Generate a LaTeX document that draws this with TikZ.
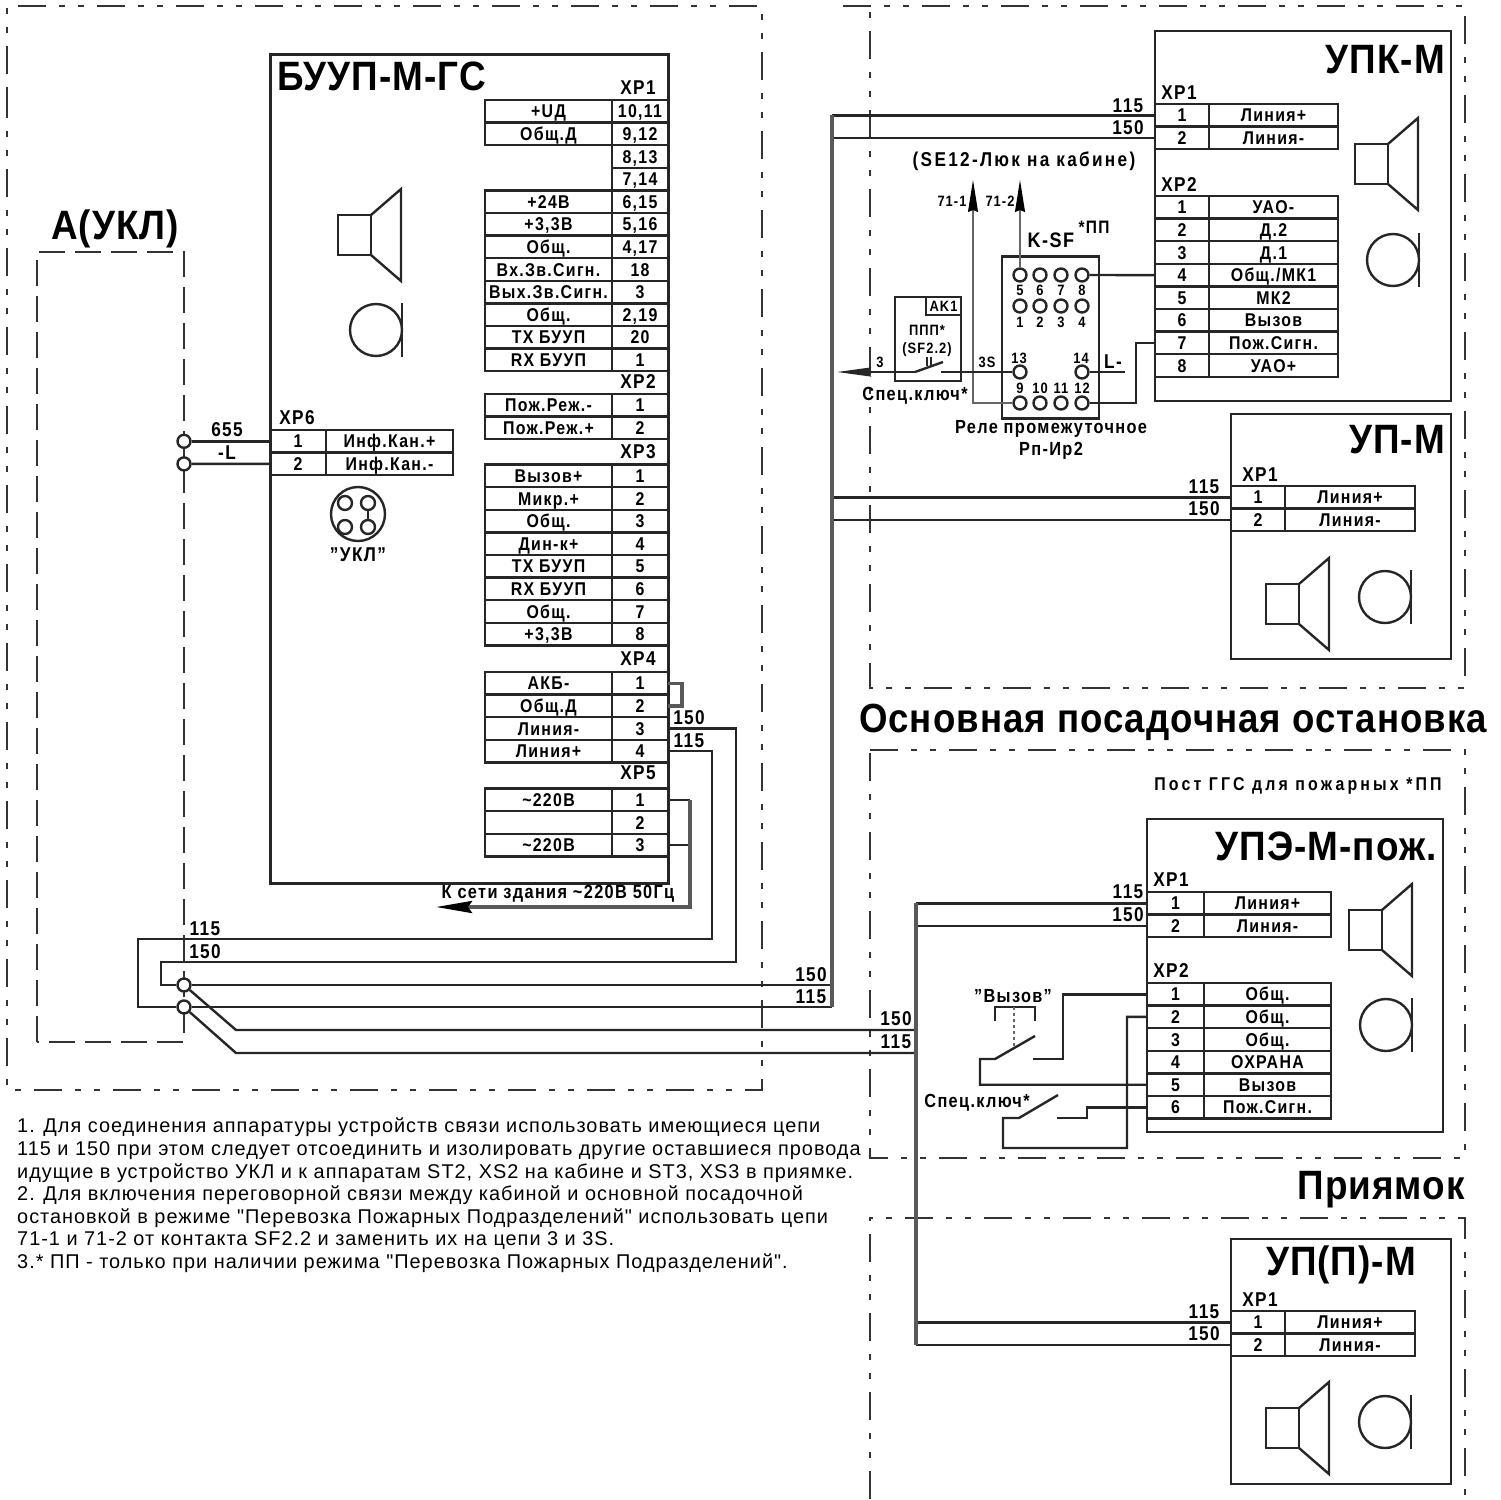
\documentclass[tikz,border=0pt]{standalone}
\usepackage{fontspec}
\setmainfont[FakeStretch=0.86,LetterSpace=7]{Liberation Sans}
\newfontfamily\notefont[LetterSpace=5]{Liberation Sans}
\newfontfamily\titlefont[FakeStretch=0.9,LetterSpace=2.5]{Liberation Sans}
\usetikzlibrary{calc}
\usetikzlibrary{arrows.meta}

\tikzset{
  boxline/.style={line width=2.4,draw=black!85},
  wire/.style={line width=2.4,draw=black!85},
  bus/.style={line width=3.6,draw=black!65},
  thinwire/.style={line width=1.3,draw=black!60},
  frame/.style={line width=1.4,draw=black!80,dash pattern=on 28 off 13 on 6 off 13 on 6 off 13},
  cell/.style={boxline,anchor=north west,inner sep=0,outer sep=0,minimum height=22.6,text height=13.2,text depth=0,font=\bfseries\fontsize{18.5}{20}\selectfont},
  lab/.style={inner sep=0,font=\bfseries\fontsize{19}{21}\selectfont},
  num/.style={inner sep=0,font=\bfseries\fontsize{20}{22}\selectfont},
  small/.style={inner sep=0,font=\bfseries\fontsize{15}{17}\selectfont},
  title/.style={inner sep=0,font=\titlefont\bfseries\fontsize{41}{46}\selectfont},
  term/.style={circle,boxline,fill=white,inner sep=0,minimum size=13},
}

% label on the left, number on the right
\newcommand{\labrows}[6]{%
  \foreach \lab/\num [count=\i from 1, evaluate=\i as \y using #3+(\i-1)*22.6] in {#6} {
    \node[cell,minimum width=#4] (#1l-\i) at (#2,\y) {\lab};
    \node[cell,minimum width=#5] (#1-\i) at (#2+#4,\y) {\num};
  }}
% number on the left, label on the right
\newcommand{\pinrows}[6]{%
  \foreach \num/\lab [count=\i from 1, evaluate=\i as \y using #3+(\i-1)*22.6] in {#6} {
    \node[cell,minimum width=#4] (#1-\i) at (#2,\y) {\num};
    \node[cell,minimum width=#5] (#1l-\i) at (#2+#4,\y) {\lab};
  }}
\newcommand{\speakerat}[2]{%
  \draw[boxline,line join=miter] (#1,#2) rectangle +(33,40);
  \draw[boxline,line join=miter] (#1+33,#2) -- +(30,-26) -- +(30,66) -- +(0,40);}
\newcommand{\micat}[2]{%
  \draw[boxline] (#1,#2) circle (26);
  \draw[boxline] (#1+26,#2-27) -- +(0,54);}

\begin{document}
\begin{tikzpicture}[x=1pt,y=-1pt,>=stealth]
  \useasboundingbox (0,0) rectangle (1501,1499);
  % dashed frames
  \draw[frame] (7,90) -- (7,1090) -- (762,1090) -- (762,6) -- (7,6) -- (7,90);
  \draw[frame,dash pattern=on 26 off 10] (37,1042) -- (37,252) -- (184,252) -- (184,1042) -- cycle;
  \draw[frame] (843,6) -- (1465,6) -- (1465,688) -- (870,688) -- (870,6);
  \draw[frame] (870,750) -- (1465,750) -- (1465,1158) -- (870,1158) -- (870,750);
  \draw[frame] (870,1499) -- (870,1218) -- (1465,1218) -- (1465,1499);
  %
  \node[title] (aukl) at (115,229) {А(УКЛ)};
  \node[title,font=\titlefont\bfseries\fontsize{40.7}{46}\selectfont] (osnova) at (1173,722) {Основная посадочная остановка};
  \node[title,anchor=east] (pit) at (1465,1190) {Приямок};
  \node[lab,font=\bfseries\fontsize{18.5}{21}\selectfont\addfontfeature{LetterSpace=17}] (post) at (1298,786) {Пост ГГС для пожарных *ПП};
  % main unit
  \draw[boxline,line width=3,line join=miter] (270,54) rectangle (668,883);
  \node[title,anchor=west] (buup) at (277,76) {БУУП-М-ГС};
  \node[num] (xp1) at (638,88) {XP1};
  \labrows{bua}{485}{100}{127}{56}{{+UД}/{10,11},{Общ.Д}/{9,12}}
  \foreach \num [count=\i from 0, evaluate=\i as \y using 145.2+\i*22.6] in {{8,13},{7,14}}
    \node[cell,minimum width=56] (bun-\i) at (612,\y) {\num};
  \labrows{bub}{485}{190.4}{127}{56}{{+24В}/{6,15},{+3,3В}/{5,16},{Общ.}/{4,17},{Вх.Зв.Сигн.}/18,{Вых.Зв.Сигн.}/3,{Общ.}/{2,19},{ТХ БУУП}/20,{RX БУУП}/1}
  \node[num] (xp2) at (638,382) {XP2};
  \labrows{buc}{485}{394}{127}{56}{{Пож.Реж.-}/1,{Пож.Реж.+}/2}
  \node[num] (xp3) at (638,452) {XP3};
  \labrows{bud}{485}{464.5}{127}{56}{{Вызов+}/1,{Микр.+}/2,{Общ.}/3,{Дин-к+}/4,{ТХ БУУП}/5,{RX БУУП}/6,{Общ.}/7,{+3,3В}/8}
  \node[num] (xp4) at (638,659) {XP4};
  \labrows{bue}{485}{672}{127}{56}{{АКБ-}/1,{Общ.Д}/2,{Линия-}/3,{Линия+}/4}
  \node[num] (xp5) at (638,773) {XP5};
  \labrows{buf}{485}{788.5}{127}{56}{{\textasciitilde220В}/1,{}/2,{\textasciitilde220В}/3}
  \speakerat{338}{215}
  \micat{376}{330}
  % XP6 and the socket
  \node[num] (xp6) at (297,418) {XP6};
  \pinrows{bug}{270}{430}{56}{127}{1/{Инф.Кан.+},2/{Инф.Кан.-}}
  \node[term] (t655) at (184,441.3) {};
  \node[term] (tl) at (184,463.9) {};
  \draw[wire] (t655) -- (bug-1.west);
  \draw[wire] (tl) -- (bug-2.west);
  \node[num] (n655) at (227,430) {655};
  \node[num] (nl) at (227,453) {-L};
  \draw[boxline] (358,514) circle (27);
  \node[term,minimum size=14] (sa) at (345,503) {};
  \node[term,minimum size=14] (sb) at (368,503) {};
  \node[term,minimum size=14] (sc) at (345,527) {};
  \node[term,minimum size=14] (sd) at (368,527) {};
  \draw[wire] (sb) -- (sd);
  \node[num] (ukl) at (358,555) {"УКЛ"};
  % XP4, XP5 outputs
  \draw[bus] (bue-1.east) -- ++(14,0) |- (bue-2.east);
  \node[num] (n150c) at (689,718) {150};
  \node[num] (n115c) at (689,741) {115};
  \coordinate (fold150) at (736,962);
  \coordinate (fold115) at (712,939);
  \coordinate (mains) at (690,907);
  \draw[wire] (buf-1.east) -- (buf-1.east -| mains);
  \draw[wire] (buf-3.east) -- (buf-3.east -| mains);
  \draw[bus,-{Stealth[length=36,width=12,inset=4,black]}] (buf-1.east -| mains) -- (mains) -- (436,907);
  \node[lab,anchor=base] (netz) at (558,898) {К сети здания \textasciitilde220В 50Гц};
  % line terminals and the bus
  \node[term] (t150) at (184,985) {};
  \node[term] (t115) at (184,1007) {};
  \coordinate (busA) at (832,985);
  \coordinate (busB) at (916,1030);
  \coordinate (d150) at (236,1030);
  \coordinate (d115) at (236,1053);
  \draw[wire] (bue-3.east) -| (fold150) -- (161,962) -- (161,985) -- (t150);
  \draw[wire] (bue-4.east) -| (fold115) -- (138,939) -- (138,1007) -- (t115);
  \draw[wire] (t150) -- (t150 -| busA);
  \draw[wire] (t115) -- (t115 -| busA);
  \draw[wire] (t150) -- (d150) -- (d150 -| busB);
  \draw[wire] (t115) -- (d115) -- (d115 -| busB);
  \node[num] (n115a) at (205,929) {115};
  \node[num] (n150a) at (205,952) {150};
  \node[num] (n150b) at (811,975) {150};
  \node[num] (n115b) at (811,997) {115};
  \node[num] (n150d) at (896,1019) {150};
  \node[num] (n115d) at (896,1042) {115};
  % UPK
  \draw[boxline,line join=miter] (1155,31) rectangle (1451,401);
  \node[title,anchor=east] (upk) at (1445,60) {УПК-М};
  \node[num] (upkxa) at (1179,93) {XP1};
  \pinrows{upka}{1155}{104}{54}{129}{1/{Линия+},2/{Линия-}}
  \node[num] (upkxb) at (1179,185) {XP2};
  \pinrows{upkb}{1155}{196}{54}{129}{1/{УАО-},2/{Д.2},3/{Д.1},4/{Общ./МК1},5/{МК2},6/{Вызов},7/{Пож.Сигн.},8/{УАО+}}
  \speakerat{1355}{144}
  \micat{1393}{260}
  \draw[wire] (upka-1.west) -- (upka-1.west -| busA);
  \draw[wire] (upka-2.west) -- (upka-2.west -| busA);
  \node[num] (n115e) at (1128,106) {115};
  \node[num] (n150e) at (1128,128) {150};
  % UP
  \draw[boxline,line join=miter] (1231,414) rectangle (1451,659);
  \node[title,anchor=east] (up) at (1445,440) {УП-М};
  \node[num] (upx) at (1260,475) {XP1};
  \pinrows{upa}{1231}{486}{54}{130}{1/{Линия+},2/{Линия-}}
  \speakerat{1266}{584}
  \micat{1385}{597}
  \draw[wire] (upa-1.west) -- (upa-1.west -| busA);
  \draw[wire] (upa-2.west) -- (upa-2.west -| busA);
  \node[num] (n115f) at (1204,487) {115};
  \node[num] (n150f) at (1204,509) {150};
  \draw[bus] (upka-1.west -| busA) -- (t115 -| busA);
  % relay
  \node[draw,boxline,minimum width=97,minimum height=162,outer sep=0,anchor=north west] (relay) at (1002,256.5) {};
  \foreach \name/\x/\y in {5/1020/275,6/1040/275,7/1061/275,8/1082/275,1/1020/306,2/1040/306,3/1061/306,4/1082/306,9/1020/403,10/1040/403,11/1061/403,12/1082/403,13/1020/372,14/1082/372}
    \node[term] (r\name) at (\x,\y) {};
  \foreach \name/\x/\y in {5/1020/290,6/1040/290,7/1061/290,8/1082/290,1/1020/322,2/1040/322,3/1061/322,4/1082/322,9/1020/388,10/1040/388,11/1061/388,12/1082/388,13/1019/358,14/1081/358}
    \node[small] (rl\name) at (\x,\y) {\name};
  \node[num,font=\bfseries\fontsize{21}{23}\selectfont] (ksf) at (1051,240) {K-SF};
  \node[lab,font=\bfseries\fontsize{18}{20}\selectfont] (pp) at (1094,227) {*ПП};
  \node[lab] (rele) at (1051,429) {Реле промежуточное};
  \node[lab] (rpir) at (1051,451) {Рп-Ир2};
  \node[lab,font=\bfseries\fontsize{20}{22}\selectfont\addfontfeature{LetterSpace=11.5}] (se12) at (1024,161) {(SE12-Люк на кабине)};
  \node[small] (l711) at (952,201) {71-1};
  \node[small] (l712) at (1000,201) {71-2};
  \coordinate (up711) at (973,180);
  \coordinate (up712) at (1020,180);
  \draw[thinwire,-{Stealth[length=32,width=10,inset=2,black]}] (r9) -| (up711);
  \draw[thinwire,-{Stealth[length=32,width=10,inset=2,black]}] (r5) -- (up712);
  \draw[wire] (r8) -- (upkb-4.west);
  \draw[wire] (r12) -| ($(upkb-7.west)+(-19,0)$) -- (upkb-7.west);
  \coordinate (lminus) at (1125,372);
  \draw[wire] (r14) -- (lminus);
  \node[num] (nlm) at (1113,362) {L-};
  % key in AK1
  \draw[boxline,line join=miter] (895,297) rectangle (961,381);
  \node[draw,boxline,minimum width=35,minimum height=18,outer sep=0,anchor=north east,small] (ak) at (961,297) {AK1};
  \node[small] (ppp) at (927,330) {ППП*};
  \node[small] (sf) at (927,350) {(SF2.2)};
  \coordinate (keya) at (915,372);
  \coordinate (keyb) at (941,372);
  \draw[wire,-{Stealth[length=34,width=9,inset=3]}] (keya) -- (837,372);
  \draw[wire] (keya) -- (943,362);
  \draw[wire] (keyb) -- (r13);
  \draw[wire,line width=1.6] (927,357) -- (927,366) (931,357) -- (931,366);
  \node[small] (l3) at (880,362) {3};
  \node[small] (l3s) at (987,362) {3S};
  \node[lab] (spa) at (915,396) {Спец.ключ*};
  % UPE
  \draw[boxline,line join=miter] (1147,819) rectangle (1443,1132);
  \node[title,anchor=east] (upe) at (1437,846) {УПЭ-М-пож.};
  \node[num] (upex) at (1171,880) {XP1};
  \pinrows{upea}{1147}{892}{57}{127}{1/{Линия+},2/{Линия-}}
  \node[num] (upey) at (1171,971) {XP2};
  \pinrows{upeb}{1147}{983}{57}{127}{1/{Общ.},2/{Общ.},3/{Общ.},4/{ОХРАНА},5/{Вызов},6/{Пож.Сигн.}}
  \speakerat{1349}{910}
  \micat{1386}{1025}
  \draw[wire] (upea-1.west) -- (upea-1.west -| busB);
  \draw[wire] (upea-2.west) -- (upea-2.west -| busB);
  \node[num] (n115g) at (1128,892) {115};
  \node[num] (n150g) at (1128,915) {150};
  % call button and key
  \node[lab] (vyz) at (1013,996) {"Вызов"};
  \draw[wire] (995,1021) |- (1035,1007) -- (1035,1021);
  \draw[thinwire,dashed] (1014,1007) -- (1014,1047);
  \draw[wire] (upeb-1.west) -| (1063,1059) -- (1033,1059);
  \draw[wire] (upeb-5.west) -| (980,1059) -- (995,1059) -- (1035,1036);
  \node[lab] (spb) at (977,1103) {Спец.ключ*};
  \draw[wire] (upeb-2.west) -| (1127,1148) -- (1003,1148) -- (1003,1118) -- (1019,1118) -- (1058,1095);
  \draw[wire] (upeb-6.west) -| (1087,1118) -- (1057,1118);
  % UPP
  \draw[boxline,line join=miter] (1231,1239) rectangle (1451,1484);
  \node[title,anchor=center] (upp) at (1341,1265) {УП(П)-М};
  \node[num] (uppx) at (1260,1300) {XP1};
  \pinrows{uppa}{1231}{1311}{54}{130}{1/{Линия+},2/{Линия-}}
  \speakerat{1266}{1408}
  \micat{1385}{1422}
  \draw[wire] (uppa-1.west) -- (uppa-1.west -| busB);
  \draw[wire] (uppa-2.west) -- (uppa-2.west -| busB);
  \node[num] (n115h) at (1204,1312) {115};
  \node[num] (n150h) at (1204,1334) {150};
  \draw[bus] (upea-1.west -| busB) -- (uppa-2.west -| busB);
  % notes
  \node[anchor=north west,align=left,inner sep=0,font=\notefont\fontsize{19.9}{22.6}\selectfont] (notes) at (17,1118) {%
    1. Для соединения аппаратуры устройств связи использовать имеющиеся цепи\\
    115 и 150 при этом следует отсоединить и изолировать другие оставшиеся провода\\
    идущие в устройство УКЛ и к аппаратам ST2, XS2 на кабине и ST3, XS3 в приямке.\\
    2. Для включения переговорной связи между кабиной и основной посадочной\\
    остановкой в режиме "Перевозка Пожарных Подразделений" использовать цепи\\
    71-1 и 71-2 от контакта SF2.2 и заменить их на цепи 3 и 3S.\\
    3.* ПП - только при наличии режима "Перевозка Пожарных Подразделений".};
\end{tikzpicture}
\end{document}
